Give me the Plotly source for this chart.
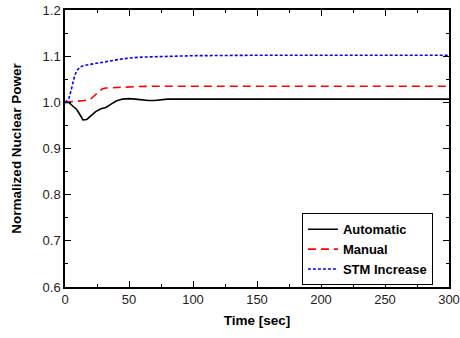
import plotly.graph_objects as go

t_auto = [0, 3, 6, 9, 12, 14, 17, 20, 24, 28, 32, 36, 40, 45, 50, 55, 60, 65, 70, 75, 80, 90, 100, 150, 200, 250, 300]
p_auto = [1.0, 1.0, 0.992, 0.985, 0.972, 0.962, 0.963, 0.970, 0.980, 0.986, 0.989, 0.996, 1.003, 1.007, 1.008, 1.007, 1.005, 1.004, 1.004, 1.006, 1.007, 1.007, 1.007, 1.007, 1.007, 1.007, 1.007]

t_man = [0, 5, 10, 15, 20, 23, 26, 29, 32, 38, 45, 55, 70, 100, 150, 200, 250, 300]
p_man = [1.0, 1.001, 1.002, 1.004, 1.007, 1.015, 1.023, 1.029, 1.031, 1.032, 1.033, 1.034, 1.035, 1.035, 1.035, 1.035, 1.035, 1.035]

t_stm = [0, 3, 5, 7, 9, 12, 15, 20, 25, 30, 40, 50, 60, 80, 100, 150, 200, 250, 300]
p_stm = [1.0, 1.008, 1.028, 1.052, 1.068, 1.077, 1.080, 1.082, 1.084, 1.087, 1.092, 1.096, 1.098, 1.100, 1.101, 1.102, 1.102, 1.102, 1.102]

FONT = "Liberation Sans, Arial"

fig = go.Figure()
fig.add_trace(go.Scatter(x=t_auto, y=p_auto, mode="lines", name="Automatic",
                         line=dict(color="black", width=1.6)))
fig.add_trace(go.Scatter(x=t_man, y=p_man, mode="lines", name="Manual",
                         line=dict(color="#ff0000", width=1.6, dash="8px,5px")))
fig.add_trace(go.Scatter(x=t_stm, y=p_stm, mode="lines", name="STM Increase",
                         line=dict(color="#0000ff", width=1.6, dash="3px,2px")))

axis_common = dict(showline=True, linecolor="black", linewidth=1.5, mirror="ticks",
                   ticks="inside", ticklen=6, tickcolor="black", tickwidth=1,
                   showgrid=False, zeroline=False, automargin=False,
                   tickfont=dict(family=FONT, size=13, color="#222"))
fig.update_xaxes(range=[0, 300], dtick=50, **axis_common,
                 minor=dict(ticks="inside", ticklen=3, dtick=25, tickcolor="black"),
                 title=dict(text="<b>Time [sec]</b>", font=dict(family=FONT, size=13.5, color="black"), standoff=9))
fig.update_yaxes(range=[0.6, 1.2], dtick=0.1, tickformat=".1f", **axis_common,
                 minor=dict(ticks="inside", ticklen=3, dtick=0.05, tickcolor="black"),
                 title=dict(text="<b>Normalized Nuclear Power</b>", font=dict(family=FONT, size=13.5, color="black"), standoff=18))

fig.update_layout(
    width=460, height=338,
    margin=dict(l=65, r=11, t=10, b=51),
    paper_bgcolor="white", plot_bgcolor="white",
    legend=dict(x=0.617, y=0.266, xanchor="left", yanchor="top",
                bordercolor="black", borderwidth=1, bgcolor="white",
                font=dict(family=FONT, size=13, color="black", weight="bold"),
                tracegroupgap=0, itemwidth=30),
    showlegend=True,
)

fig.write_html("out.html", config={"displayModeBar": False},
               post_script="document.body.style.margin='0';document.body.style.padding='0';")
